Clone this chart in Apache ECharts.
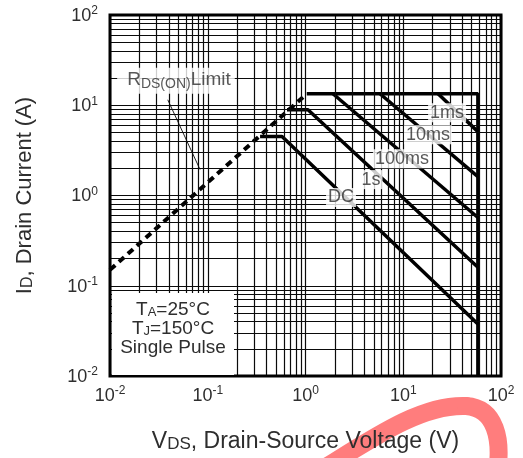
<!DOCTYPE html>
<html>
<head>
<meta charset="utf-8">
<script src="https://cdn.jsdelivr.net/npm/echarts@6/dist/echarts.min.js"></script>
<style>
html, body { margin: 0; padding: 0; background: #fff; }
#chart { width: 523px; height: 458px; }
</style>
</head>
<body>
<div id="chart"></div>
<script>
const FONT = '"Liberation Sans", Arial, Helvetica, sans-serif';
const TXT = '#2e2e2e';

// Decade exponents shown as tick labels on both axes
const tickExponents = [-2, -1, 0, 1, 2];

// RDS(ON) limit line: drain-source voltage (V) and drain current (A)
const rdsV = [0.01, 1.03];
const rdsI = [0.15, 13.4];

// Pulsed current ceiling and breakdown-voltage edge
const edgeV = [1.03, 58, 58];
const edgeI = [13.4, 13.4, 0.01];

// Safe-operating-area boundaries
const dcV = [0.343, 0.575, 58];
const dcI = [4.5, 4.5, 0.0376];
const s1V = [0.647, 1.06, 58];
const s1I = [8.9, 8.9, 0.16];
const ms100V = [1.91, 58];
const ms100I = [13.4, 0.57];
const ms10V = [5.78, 58];
const ms10I = [13.4, 1.62];
const ms1V = [22.7, 58];
const ms1I = [13.4, 5.1];

// Curve labels and where they sit
const curveNames = ['1ms', '10ms', '100ms', '1s', 'DC'];
const curveLabelV = [28.1, 17.9, 9.7, 4.68, 2.31];
const curveLabelI = [8.26, 4.72, 2.56, 1.50, 0.95];

// "RDS(ON) Limit" caption and its leader line
const rdsLabelV = [0.0473];
const rdsLabelI = [18.7];
const leaderV = [0.039, 0.0834];
const leaderI = [11.5, 1.94];

const zip = (xs, ys) => xs.map((x, i) => [x, ys[i]]);

// Log grid: 1..9 per decade across 1e-2 .. 1e2
const gridValues = [];
for (let k = -2; k <= 1; k++) {
  for (let m = 1; m <= 9; m++) gridValues.push(+(m * Math.pow(10, k)).toPrecision(3));
}
gridValues.push(100);

const tickLabel = v => {
  const e = Math.round(Math.log10(v));
  const idx = tickExponents.indexOf(e);
  return '{b|10}{s|' + tickExponents[idx] + '}';
};

const tickRich = {
  b: { fontFamily: FONT, fontSize: 18, color: TXT, lineHeight: 20, padding: [6, 0, 0, 0], verticalAlign: 'bottom' },
  s: { fontFamily: FONT, fontSize: 12, color: TXT, lineHeight: 13, verticalAlign: 'top' }
};

const curveStyle = { color: '#000', width: 3.5 };
const lineSeries = (name, data, style, z) => ({
  name, type: 'line', data, symbol: 'none', z: z || 4, silent: true,
  lineStyle: style, animation: false
});

const swooshStyle = { stroke: '#ff7d7d', lineWidth: 18, fill: 'none', lineCap: 'round' };

const chart = echarts.init(document.getElementById('chart'));
chart.setOption({
  animation: false,
  grid: { left: 110, top: 15, right: 22, bottom: 81, show: true, borderColor: '#000', borderWidth: 3, backgroundColor: 'transparent', z: 10 },
  xAxis: {
    type: 'log', logBase: 10, min: 0.01, max: 100,
    axisLine: { show: false }, axisTick: { show: false }, splitLine: { show: false },
    axisLabel: { margin: 9, formatter: tickLabel, rich: tickRich },
    name: '{v|V}{s|DS}{n|, Drain-Source Voltage (V)}',
    nameLocation: 'middle', nameGap: 50,
    nameTextStyle: {
      rich: {
        v: { fontFamily: FONT, fontSize: 23, color: TXT, lineHeight: 27, verticalAlign: 'bottom' },
        s: { fontFamily: FONT, fontSize: 17, color: TXT, lineHeight: 20, verticalAlign: 'bottom' },
        n: { fontFamily: FONT, fontSize: 23, color: TXT, lineHeight: 27, verticalAlign: 'bottom' }
      }
    }
  },
  yAxis: {
    type: 'log', logBase: 10, min: 0.01, max: 100,
    axisLine: { show: false }, axisTick: { show: false }, splitLine: { show: false },
    axisLabel: { margin: 12, formatter: tickLabel, rich: tickRich },
    name: '{v|I}{s|D}{n|, Drain Current (A)}',
    nameLocation: 'middle', nameGap: 74, nameRotate: 90,
    nameTextStyle: {
      rich: {
        v: { fontFamily: FONT, fontSize: 22, color: TXT, lineHeight: 26, verticalAlign: 'bottom' },
        s: { fontFamily: FONT, fontSize: 16, color: TXT, lineHeight: 19, verticalAlign: 'bottom' },
        n: { fontFamily: FONT, fontSize: 22, color: TXT, lineHeight: 26, verticalAlign: 'bottom' }
      }
    }
  },
  series: [
    {
      name: 'grid', type: 'line', data: [], z: 1, silent: true,
      markLine: {
        silent: true, symbol: 'none', animation: false,
        label: { show: false },
        lineStyle: { color: '#0a0a0a', width: 1.2, type: 'solid' },
        data: gridValues.map(v => ({ xAxis: v })).concat(gridValues.map(v => ({ yAxis: v })))
      }
    },
    lineSeries('RDS(ON) Limit', zip(rdsV, rdsI), { color: '#000', width: 4, type: [7, 5] }),
    lineSeries('edge', zip(edgeV, edgeI), curveStyle),
    lineSeries('DC', zip(dcV, dcI), curveStyle),
    lineSeries('1s', zip(s1V, s1I), curveStyle),
    lineSeries('100ms', zip(ms100V, ms100I), curveStyle),
    lineSeries('10ms', zip(ms10V, ms10I), curveStyle),
    lineSeries('1ms', zip(ms1V, ms1I), curveStyle),
    lineSeries('leader', zip(leaderV, leaderI), { color: '#222', width: 1 }),
    {
      name: 'curve labels', type: 'scatter', z: 6, silent: true,
      symbolSize: 1, itemStyle: { color: 'rgba(0,0,0,0)' },
      data: curveNames.map((n, i) => ({ value: [curveLabelV[i], curveLabelI[i]], name: n })),
      label: {
        show: true, position: 'inside', formatter: p => p.name,
        fontFamily: FONT, fontSize: 18, color: TXT,
        backgroundColor: '#fff', padding: [1, 2, 0, 2]
      }
    },
    {
      name: 'rds caption', type: 'scatter', z: 6, silent: true,
      symbolSize: 1, itemStyle: { color: 'rgba(0,0,0,0)' },
      data: zip(rdsLabelV, rdsLabelI),
      label: {
        show: true, position: 'inside',
        formatter: '{r|R}{sub|DS(ON)}{r|Limit}',
        backgroundColor: '#fff', padding: [3, 4, 3, 10],
        rich: {
          r: { fontFamily: FONT, fontSize: 19, color: TXT, lineHeight: 20, padding: [0, 0, 6, 0], verticalAlign: 'top' },
          sub: { fontFamily: FONT, fontSize: 14, color: TXT, lineHeight: 15, verticalAlign: 'bottom' }
        }
      }
    }
  ],
  graphic: [
    {
      type: 'bezierCurve', z: -1, silent: true,
      shape: { x1: 318, y1: 472, cpx1: 370, cpy1: 440, cpx2: 420, cpy2: 404, x2: 466, y2: 406 },
      style: swooshStyle
    },
    {
      type: 'bezierCurve', z: -1, silent: true,
      shape: { x1: 466, y1: 406, cpx1: 496, cpy1: 408, cpx2: 502, cpy2: 440, x2: 497, y2: 472 },
      style: swooshStyle
    },
    {
      type: 'rect', z: 100, silent: true,
      shape: { x: 112, y: 293, width: 122, height: 82 },
      style: { fill: '#fff' }
    },
    {
      type: 'text', z: 101, silent: true,
      x: 173, y: 300,
      style: {
        text: '{t|T}{sub|A}{t|=25°C}\n{t|T}{sub|J}{t|=150°C}\n{t|Single Pulse}',
        align: 'center', verticalAlign: 'top',
        rich: {
          t: { fontFamily: FONT, fontSize: 19, fill: TXT, lineHeight: 19, padding: [0, 0, 3, 0], verticalAlign: 'top' },
          sub: { fontFamily: FONT, fontSize: 13, fill: TXT, lineHeight: 13, verticalAlign: 'bottom' }
        }
      }
    }
  ]
});
</script>
</body>
</html>
